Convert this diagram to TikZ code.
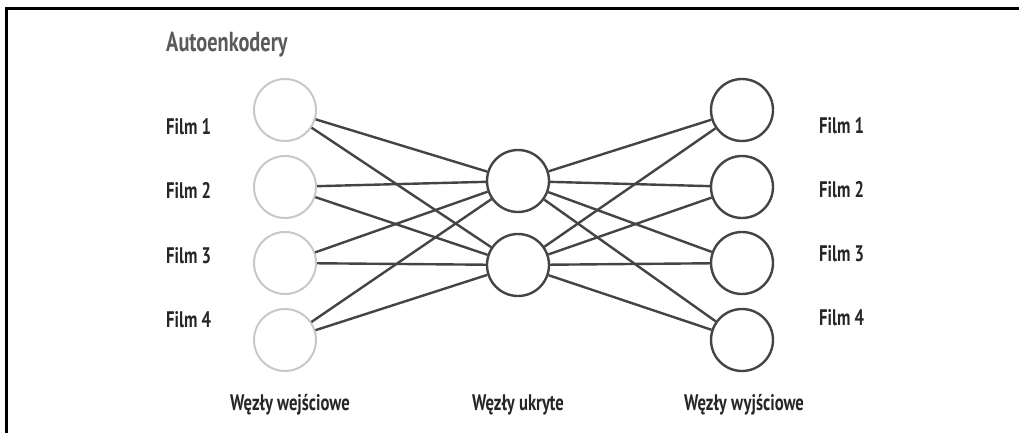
\documentclass[tikz,border=0pt]{standalone}
\usepackage{fontspec}
\setmainfont{PT Sans}[FakeStretch=0.74]
\definecolor{edgecol}{HTML}{444444}
\definecolor{incol}{HTML}{C8C8C8}
\definecolor{txtcol}{HTML}{262626}
\definecolor{titlecol}{HTML}{5A5A5A}
\begin{document}
\begin{tikzpicture}[x=1pt,y=-1pt,
  inode/.style={circle,draw=incol,line width=2pt,minimum size=62pt,inner sep=0pt},
  onode/.style={circle,draw=edgecol,line width=2.4pt,minimum size=62pt,inner sep=0pt},
  conn/.style={draw=edgecol,line width=2.4pt},
  lbl/.style={font=\fontsize{22.5}{24}\selectfont\bfseries,text=txtcol,inner sep=0pt},
  frame/.style={draw=black,line width=3pt}]
\useasboundingbox (0,0) rectangle (1019,433);
\fill[white] (0,0) rectangle (1019,433);
\draw[frame] (6.5,433) -- (6.5,8.5) -- (1019,8.5);
\node[anchor=base west,font=\fontsize{27.5}{29}\selectfont\bfseries,text=titlecol,inner sep=0pt] (title) at (166,52) {Autoenkodery};
% input nodes
\node[inode] (i1) at (285,110) {};
\node[inode] (i2) at (285,187) {};
\node[inode] (i3) at (285,263) {};
\node[inode] (i4) at (285,340) {};
% hidden
\node[onode] (h1) at (518,181) {};
\node[onode] (h2) at (518,265) {};
% output
\node[onode] (o1) at (742,110) {};
\node[onode] (o2) at (742,187) {};
\node[onode] (o3) at (742,263) {};
\node[onode] (o4) at (742,340) {};
% connections
\foreach \i in {1,2,3,4}{
  \foreach \h in {1,2}{
    \draw[conn] (i\i) -- (h\h);
    \draw[conn] (h\h) -- (o\i);
  }
}
% labels
\node[lbl,anchor=base west] (l1) at (166,134) {Film 1};
\node[lbl,anchor=base west] (l2) at (166,198) {Film 2};
\node[lbl,anchor=base west] (l3) at (166,263) {Film 3};
\node[lbl,anchor=base west] (l4) at (166,327) {Film 4};
\node[lbl,anchor=base west] (r1) at (819,133) {Film 1};
\node[lbl,anchor=base west] (r2) at (819,197) {Film 2};
\node[lbl,anchor=base west] (r3) at (819,261) {Film 3};
\node[lbl,anchor=base west] (r4) at (819,325) {Film 4};
\node[lbl,anchor=base] (b1) at (290,410) {Węzły wejściowe};
\node[lbl,anchor=base] (b2) at (518,410) {Węzły ukryte};
\node[lbl,anchor=base] (b3) at (744,410) {Węzły wyjściowe};
\end{tikzpicture}
\end{document}
